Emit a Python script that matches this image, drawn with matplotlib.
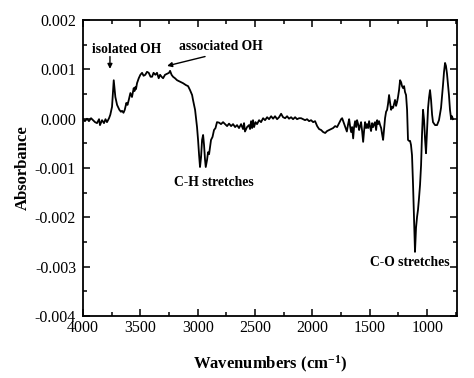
import matplotlib
matplotlib.use("Agg")
import matplotlib.pyplot as plt
from matplotlib.ticker import MultipleLocator, FormatStrFormatter

plt.rcParams['font.family'] = ['Liberation Serif', 'DejaVu Serif']
plt.rcParams['axes.unicode_minus'] = False
plt.rcParams['mathtext.fontset'] = 'custom'
plt.rcParams['mathtext.rm'] = 'Liberation Serif:bold'
plt.rcParams['mathtext.it'] = 'Liberation Serif:bold'
plt.rcParams['mathtext.bf'] = 'Liberation Serif:bold'

# Spectrum (wavenumber in cm^-1, absorbance)
wavenumber = [
    4000, 3983, 3965, 3948, 3930, 3913, 3895, 3878, 3860, 3852, 3834, 3817, 3804, 3791, 3773,
    3762, 3747, 3732, 3718, 3703, 3683, 3669, 3660, 3647, 3636, 3622, 3612, 3601, 3587, 3573,
    3558, 3551, 3544, 3538, 3529, 3514, 3500, 3485, 3472, 3457, 3442, 3427, 3411, 3398, 3385,
    3369, 3355, 3340, 3328, 3315, 3302, 3285, 3267, 3250, 3241, 3228, 3215, 3198, 3180, 3154,
    3128, 3102, 3084, 3067, 3049, 3041, 3023, 3015, 3006, 2997, 2988, 2980, 2971, 2962, 2953,
    2945, 2936, 2930, 2919, 2910, 2901, 2884, 2871, 2858, 2845, 2832, 2814, 2797, 2779, 2762,
    2744, 2727, 2709, 2692, 2674, 2657, 2640, 2622, 2605, 2596, 2588, 2570, 2553, 2544, 2535,
    2526, 2518, 2509, 2496, 2483, 2465, 2448, 2430, 2413, 2395, 2378, 2360, 2343, 2326, 2308,
    2291, 2273, 2256, 2238, 2221, 2204, 2186, 2169, 2151, 2134, 2116, 2099, 2081, 2064, 2047,
    2029, 2012, 1994, 1977, 1959, 1942, 1924, 1907, 1889, 1872, 1855, 1837, 1820, 1802, 1785,
    1767, 1750, 1741, 1732, 1715, 1700, 1689, 1680, 1672, 1663, 1654, 1645, 1637, 1628, 1619,
    1611, 1602, 1593, 1585, 1576, 1567, 1558, 1550, 1541, 1532, 1524, 1515, 1506, 1497, 1489,
    1480, 1471, 1463, 1454, 1445, 1436, 1428, 1419, 1410, 1401, 1393, 1384, 1375, 1367, 1358,
    1349, 1341, 1332, 1323, 1314, 1306, 1297, 1288, 1280, 1271, 1262, 1254, 1245, 1236, 1227,
    1219, 1210, 1201, 1193, 1184, 1175, 1167, 1158, 1149, 1141, 1132, 1123, 1114, 1106, 1097,
    1088, 1080, 1071, 1062, 1053, 1045, 1036, 1027, 1018, 1010, 1001, 992, 984, 975, 966,
    957, 949, 931, 914, 897, 879, 862, 853, 844, 836, 827, 818, 810, 801, 792,
    784, 775,
]
absorbance = [
    -0.00001, -0.00005, 0.0, -0.00005, 0.00001, -0.00003, -0.00007, -0.00009, -0.00001, -0.00013,
    -0.00003, -0.00009, -0.00001, -0.00007, 0.00001,
    0.00008, 0.00024, 0.00078, 0.00044, 0.00028, 0.00018, 0.00014, 0.00016, 0.00012, 0.00018,
    0.00032, 0.00028, 0.00038, 0.00052, 0.00044,
    0.00062, 0.00056, 0.00064, 0.00060, 0.00072, 0.00082, 0.00089, 0.00093, 0.00087, 0.00089,
    0.00095, 0.00093, 0.00085, 0.00085, 0.00093,
    0.00089, 0.00093, 0.00082, 0.00089, 0.00085, 0.00082, 0.00089, 0.00091, 0.00093, 0.00097,
    0.00089, 0.00085, 0.00082, 0.00078, 0.00075,
    0.00072, 0.00068, 0.00066, 0.00058, 0.00048, 0.00038, 0.00018, 0.00001, -0.00017, -0.00043,
    -0.00074, -0.00098, -0.00078, -0.00043, -0.00033,
    -0.00053, -0.00084, -0.00098, -0.00084, -0.00068, -0.00072, -0.00043, -0.00037, -0.00023,
    -0.00019, -0.00007, -0.00008, -0.00011, -0.00007, -0.00011,
    -0.00015, -0.00010, -0.00015, -0.00011, -0.00017, -0.00013, -0.00019, -0.00011, -0.00021,
    -0.00009, -0.00026, -0.00017, -0.00013, -0.00021, -0.00005,
    -0.00019, -0.00003, -0.00017, -0.00007, -0.00011, -0.00003, -0.00007, 0.00001, -0.00003,
    0.00003, -0.00001, 0.00005, 0.0, 0.00005, -0.00001,
    0.00003, 0.00010, 0.00003, 0.00001, 0.00005, 0.0, 0.00003, -0.00001, 0.00003, -0.00001,
    0.00001, 0.00001, -0.00001, -0.00003, -0.00001,
    -0.00005, -0.00003, -0.00007, -0.00005, -0.00015, -0.00021, -0.00023, -0.00027, -0.00029,
    -0.00025, -0.00023, -0.00021, -0.00019, -0.00015, -0.00017,
    -0.00009, -0.00001, 0.00001, -0.00005, -0.00017, -0.00026, -0.00011, -0.00001, -0.00015,
    -0.00027, -0.00017, -0.00040, -0.00017, -0.00005, -0.00017,
    -0.00003, -0.00011, -0.00023, -0.00015, -0.00007, -0.00025, -0.00047, -0.00025, -0.00007,
    -0.00019, -0.00011, -0.00019, -0.00005, -0.00017, -0.00025,
    -0.00009, -0.00017, -0.00011, -0.00007, -0.00023, -0.00003, -0.00011, -0.00005, -0.00013,
    -0.00019, -0.00031, -0.00043, -0.00019, 0.00001, 0.00014,
    0.00018, 0.00030, 0.00048, 0.00032, 0.00018, 0.00024, 0.00022, 0.00030, 0.00038, 0.00026,
    0.00034, 0.00044, 0.00058, 0.00078, 0.00074,
    0.00066, 0.00062, 0.00066, 0.00054, 0.00048, 0.00018, -0.00043, -0.00045, -0.00045,
    -0.00053, -0.00074, -0.00134, -0.00206, -0.00270, -0.00221,
    -0.00199, -0.00185, -0.00161, -0.00134, -0.00094, -0.00033, 0.00018, -0.00003, -0.00043,
    -0.00070, -0.00023, 0.00022, 0.00042, 0.00058, 0.00038,
    0.00008, -0.00007, -0.00013, -0.00013, -0.00003, 0.00022, 0.00068, 0.00095, 0.00113,
    0.00107, 0.00091, 0.00068, 0.00048, 0.00018, 0.00001,
    0.00005, -0.00001,
]

x_ticks = [4000, 3500, 3000, 2500, 2000, 1500, 1000]
y_ticks = [0.002, 0.001, 0.000, -0.001, -0.002, -0.003, -0.004]

fig = plt.figure(figsize=(4.74, 3.78), dpi=100)
ax = fig.add_axes([0.1751, 0.164, 0.789, 0.783])

ax.plot(wavenumber, absorbance, color='black', lw=1.3)

ax.set_xlim(4000, 740)
ax.set_ylim(-0.004, 0.002)
ax.set_xticks(x_ticks)
ax.set_yticks(y_ticks)
ax.xaxis.set_minor_locator(MultipleLocator(250))
ax.yaxis.set_minor_locator(MultipleLocator(0.0005))
ax.yaxis.set_major_formatter(FormatStrFormatter('%.3f'))

ax.tick_params(which='both', direction='in', top=True, right=True,
               labelsize=11.5, width=1.1)
ax.tick_params(axis='x', pad=3)
ax.tick_params(axis='y', pad=5)
ax.tick_params(which='major', length=5)
ax.tick_params(which='minor', length=3)
for s in ax.spines.values():
    s.set_linewidth(1.3)

ax.set_xlabel(r'Wavenumbers (cm$^{\mathrm{-1}}$)', fontsize=12, fontweight='bold', labelpad=13)
ax.set_ylabel('Absorbance', fontsize=12, fontweight='bold', labelpad=3)

ann_kw = dict(fontsize=9.8, fontweight='bold')
arrow_kw = dict(arrowstyle='-|>', color='black', lw=1, mutation_scale=7, shrinkA=0, shrinkB=0)

ax.text(3621, 0.00140, 'isolated OH', ha='center', va='center', **ann_kw)
ax.annotate('', xy=(3765, 0.00101), xytext=(3765, 0.00126), arrowprops=arrow_kw)

ax.text(2796, 0.00146, 'associated OH', ha='center', va='center', **ann_kw)
ax.annotate('', xy=(3267, 0.00107), xytext=(2936, 0.00126), arrowprops=arrow_kw)

ax.text(2858, -0.00130, 'C-H stretches', ha='center', va='center', **ann_kw)
ax.text(1153, -0.00292, 'C-O stretches', ha='center', va='center', **ann_kw)

fig.savefig('out.png', dpi=100)
